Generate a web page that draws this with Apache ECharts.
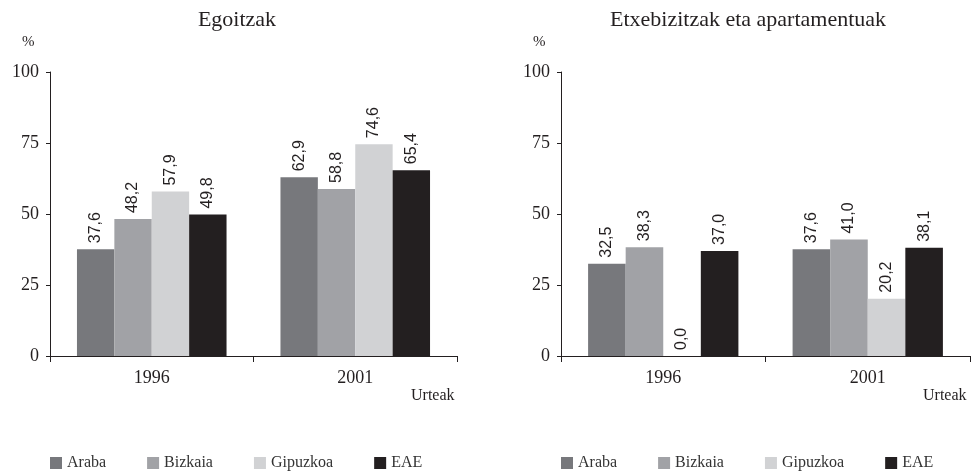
<!DOCTYPE html>
<html>
<head>
<meta charset="utf-8">
<script src="https://cdn.jsdelivr.net/npm/echarts@6/dist/echarts.min.js"></script>
<style>
  html, body { margin: 0; padding: 0; background: #fff; }
  #chart { width: 980px; height: 471px; }
</style>
</head>
<body>
<div id="chart"></div>
<script>
// data
var years = ['1996', '2001'];
var regions = ['Araba', 'Bizkaia', 'Gipuzkoa', 'EAE'];
var colors = ['#77787c', '#a1a2a6', '#d1d2d4', '#231f20'];
var yTicks = [0, 25, 50, 75, 100];

// Egoitzak
var egoAraba = [37.6, 62.9];
var egoBizkaia = [48.2, 58.8];
var egoGipuzkoa = [57.9, 74.6];
var egoEAE = [49.8, 65.4];

// Etxebizitzak eta apartamentuak
var etxAraba = [32.5, 37.6];
var etxBizkaia = [38.3, 41.0];
var etxGipuzkoa = [0.0, 20.2];
var etxEAE = [37.0, 38.1];

var serif = '"Liberation Serif", "DejaVu Serif", serif';
var sans = '"Liberation Sans", Arial, sans-serif';
var ink = '#231f20';

function fmt(v) {
    return v.toFixed(1).replace('.', ',');
}

function makeBar(name, data, idx) {
    var i = regions.indexOf(name);
    return {
        name: name,
        type: 'bar',
        xAxisIndex: idx,
        yAxisIndex: idx,
        data: data,
        barGap: 0,
        barCategoryGap: '26.5%',
        itemStyle: { color: colors[i] },
        label: {
            show: true,
            position: 'top',
            rotate: 90,
            align: 'left',
            verticalAlign: 'middle',
            distance: 6,
            fontFamily: sans,
            fontSize: 16,
            color: ink,
            formatter: function (p) { return fmt(p.value); }
        }
    };
}

function xAxisFor(idx) {
    return {
        type: 'category',
        gridIndex: idx,
        data: years,
        axisLine: { lineStyle: { color: ink, width: 1 } },
        axisTick: { show: true, length: 6, inside: false, lineStyle: { color: ink } },
        axisLabel: { fontFamily: serif, fontSize: 18, color: ink, margin: 13 }
    };
}

function yAxisFor(idx) {
    return {
        type: 'value',
        gridIndex: idx,
        min: 0,
        max: 100,
        interval: 25,
        axisLine: { show: true, lineStyle: { color: ink, width: 1 } },
        axisTick: { show: true, length: 4, lineStyle: { color: ink } },
        axisLabel: {
            fontFamily: serif, fontSize: 18, color: ink, margin: 11,
            formatter: function (v) { return yTicks.indexOf(v) >= 0 ? String(v) : ''; }
        },
        splitLine: { show: false }
    };
}

function legendAt(left, gap) {
    return {
        left: left,
        top: 455,
        padding: 0,
        itemWidth: 12,
        itemHeight: 12,
        itemGap: gap,
        icon: 'rect',
        data: regions,
        textStyle: { fontFamily: serif, fontSize: 16, color: '#333' }
    };
}

var chart = echarts.init(document.getElementById('chart'));
var option = {
    animation: false,
    backgroundColor: '#fff',
    title: [
        { text: 'Egoitzak', left: 232, top: 4, textAlign: 'center',
          textStyle: { fontFamily: serif, fontSize: 22, fontWeight: 'normal', color: ink } },
        { text: 'Etxebizitzak eta apartamentuak', left: 743, top: 4, textAlign: 'center',
          textStyle: { fontFamily: serif, fontSize: 22, fontWeight: 'normal', color: ink } }
    ],
    legend: [legendAt(50, 41), legendAt(561, 41)],
    grid: [
        { left: 50, right: 523, top: 72, bottom: 115 },
        { left: 561, right: 10, top: 72, bottom: 115 }
    ],
    xAxis: [xAxisFor(0), xAxisFor(1)],
    yAxis: [yAxisFor(0), yAxisFor(1)],
    graphic: [
        { type: 'text', left: 22, top: 35, style: { text: '%', font: '15px ' + serif, fill: ink } },
        { type: 'text', left: 533, top: 35, style: { text: '%', font: '15px ' + serif, fill: ink } },
        { type: 'text', left: 411, top: 388, style: { text: 'Urteak', font: '16px ' + serif, fill: ink } },
        { type: 'text', left: 923, top: 388, style: { text: 'Urteak', font: '16px ' + serif, fill: ink } }
    ],
    series: [
        makeBar('Araba', egoAraba, 0),
        makeBar('Bizkaia', egoBizkaia, 0),
        makeBar('Gipuzkoa', egoGipuzkoa, 0),
        makeBar('EAE', egoEAE, 0),
        makeBar('Araba', etxAraba, 1),
        makeBar('Bizkaia', etxBizkaia, 1),
        makeBar('Gipuzkoa', etxGipuzkoa, 1),
        makeBar('EAE', etxEAE, 1)
    ]
};
chart.setOption(option);
</script>
</body>
</html>
